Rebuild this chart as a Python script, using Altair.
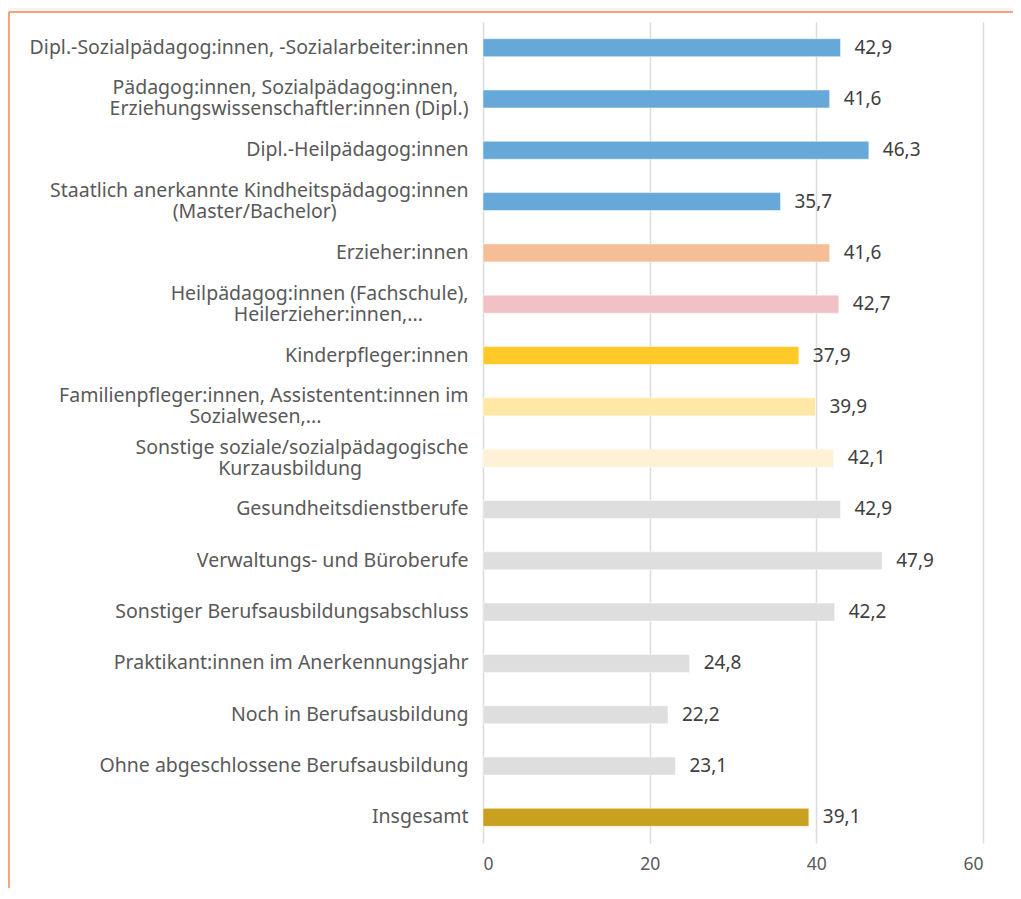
import altair as alt
import pandas as pd

NB = "\u00a0"
ZW = "\u200b"

categories = [
    "Dipl.-Sozialpädagog:innen, -Sozialarbeiter:innen",
    "Pädagog:innen, Sozialpädagog:innen," + NB + NB + ZW + "|Erziehungswissenschaftler:innen (Dipl.)",
    "Dipl.-Heilpädagog:innen",
    "Staatlich anerkannte Kindheitspädagog:innen|(Master/Bachelor)",
    "Erzieher:innen",
    "Heilpädagog:innen (Fachschule),|Heilerzieher:innen,...",
    "Kinderpfleger:innen",
    "Familienpfleger:innen, Assistentent:innen im|Sozialwesen,...",
    "Sonstige soziale/sozialpädagogische|Kurzausbildung",
    "Gesundheitsdienstberufe",
    "Verwaltungs- und Büroberufe",
    "Sonstiger Berufsausbildungsabschluss",
    "Praktikant:innen im Anerkennungsjahr",
    "Noch in Berufsausbildung",
    "Ohne abgeschlossene Berufsausbildung",
    "Insgesamt",
]
values = [42.9, 41.6, 46.3, 35.7, 41.6, 42.7, 37.9, 39.9, 42.1, 42.9, 47.9, 42.2, 24.8, 22.2, 23.1, 39.1]
colors = [
    "#66a9d9", "#66a9d9", "#66a9d9", "#66a9d9",
    "#f5be97", "#f2c1c5", "#ffca28", "#ffe8a6", "#fff1d6",
    "#dedede", "#dedede", "#dedede", "#dedede", "#dedede", "#dedede",
    "#c9a020",
]
x_ticks = [0, 20, 40, 60]

df = pd.DataFrame({"cat": categories, "value": values, "color": colors})

FONT = "Noto Sans"

one = alt.Chart(df).transform_filter("datum.cat == 'Insgesamt'")

top_strip = one.mark_rect(fill="#f3f4f6").encode(
    x=alt.value(-480), x2=alt.value(700), y=alt.value(-16), y2=alt.value(-10)
)
top_line = one.mark_rule(color="#f5874f", strokeWidth=1.5).encode(
    x=alt.value(-474), x2=alt.value(700), y=alt.value(-10)
)
left_line = one.mark_rule(color="#f5874f", strokeWidth=1.5).encode(
    x=alt.value(-474), y=alt.value(-10), y2=alt.value(1000)
)

# multi-line labels: block right-aligned, short second line roughly centred
label_expr = (
    "indexof(datum.label, '|') >= 0 ? "
    "[split(datum.label, '|')[0], "
    "pad(split(datum.label, '|')[1], length(split(datum.label, '|')[0]), '" + NB + "') + '" + ZW + "'] "
    ": datum.label"
)

y_enc = alt.Y(
    "cat:N",
    sort=categories,
    title=None,
    scale=alt.Scale(paddingInner=0.65, paddingOuter=0.325),
    axis=alt.Axis(
        labelExpr=label_expr,
        labelOffset=alt.ExprRef("indexof(datum.label, '|') >= 0 ? -10.5 : 0"),
        labelFont=FONT,
        labelFontSize=19.5,
        labelColor="#595959",
        labelPadding=15,
        labelLimit=600,
        labelLineHeight=21,
        ticks=False,
        domain=False,
        grid=False,
    ),
)

x_enc = alt.X(
    "value:Q",
    title=None,
    scale=alt.Scale(domain=[0, 60], nice=False),
    axis=alt.Axis(
        values=x_ticks,
        labelFont=FONT,
        labelFontSize=17.5,
        labelColor="#595959",
        labelPadding=12,
        ticks=False,
        domain=False,
        grid=True,
        gridColor="#dcdcdc",
        gridWidth=1.5,
    ),
)

bars = alt.Chart(df).mark_bar(stroke="#ffffff", strokeOpacity=0.6, strokeWidth=0.8).encode(
    y=y_enc,
    x=x_enc,
    color=alt.Color("color:N", scale=None, legend=None),
)

labels = alt.Chart(df).transform_calculate(
    txt="replace(format(datum.value, '.1f'), '.', ',')"
).mark_text(
    align="left", baseline="middle", dx=14, font=FONT, fontSize=19, color="#404040"
).encode(
    y=alt.Y("cat:N", sort=categories),
    x=alt.X("value:Q"),
    text="txt:N",
)

chart = alt.layer(top_strip, top_line, left_line, bars, labels).properties(
    width=500,
    height=821,
    background="white",
    padding={"left": 475, "top": 14, "right": 30, "bottom": 45},
    autosize=alt.AutoSizeParams(type="none"),
).configure_view(stroke=None)

chart.save("out.html", embed_options={"renderer": "svg", "actions": False})
